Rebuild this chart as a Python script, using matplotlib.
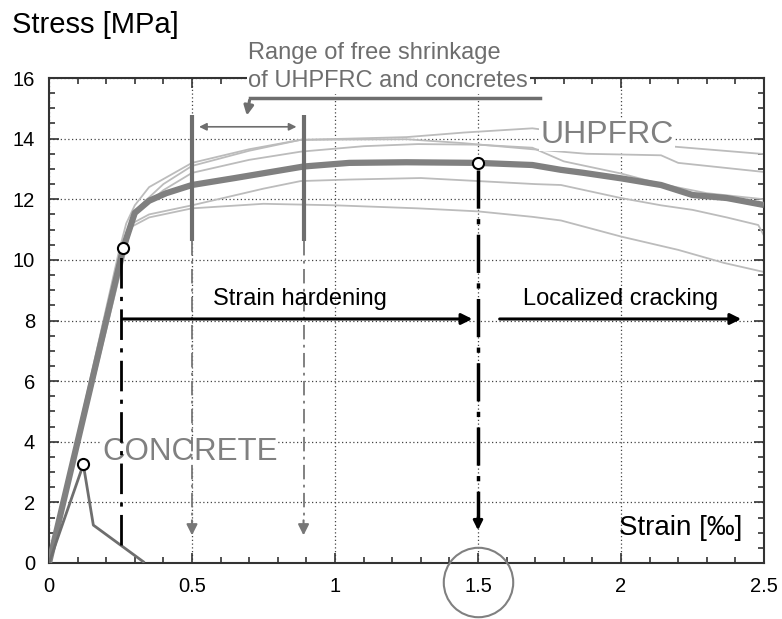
import matplotlib
matplotlib.use("Agg")
import matplotlib.pyplot as plt
from matplotlib.ticker import MultipleLocator

plt.rcParams["font.family"] = ["Liberation Sans", "DejaVu Sans"]

# mean UHPFRC curve (thick)
strain_mean = [0, 0.26, 0.30, 0.35, 0.41, 0.50, 0.65, 0.89, 1.05, 1.25, 1.50, 1.69, 1.79, 1.87, 2.00, 2.14, 2.25, 2.37, 2.50]
stress_mean = [0, 10.4, 11.55, 11.95, 12.2, 12.47, 12.7, 13.08, 13.2, 13.22, 13.2, 13.13, 12.97, 12.87, 12.69, 12.47, 12.14, 12.04, 11.81]

# individual UHPFRC specimens (light)
strain_a = [0, 0.245, 0.27, 0.30, 0.35, 0.50, 0.70, 0.88, 1.05, 1.25, 1.45, 1.69, 2.18, 2.50]
stress_a = [0, 10.3, 11.2, 11.8, 12.4, 13.2, 13.65, 13.96, 14.0, 14.05, 14.2, 14.34, 13.74, 13.49]
strain_b = [0, 0.25, 0.28, 0.32, 0.40, 0.50, 0.70, 0.88, 1.25, 1.45, 1.69, 1.88, 2.14, 2.20, 2.35, 2.50]
stress_b = [0, 10.2, 11.0, 11.8, 12.5, 13.1, 13.6, 13.96, 13.98, 13.85, 13.65, 13.5, 13.45, 13.2, 13.05, 12.9]
strain_c = [0, 0.24, 0.27, 0.30, 0.40, 0.50, 0.70, 0.88, 1.10, 1.29, 1.50, 1.69, 1.80, 2.00, 2.14, 2.30, 2.50]
stress_c = [0, 10.0, 10.9, 11.5, 12.3, 12.87, 13.3, 13.57, 13.75, 13.82, 13.8, 13.7, 13.25, 12.85, 12.5, 12.2, 12.0]
strain_d = [0, 0.26, 0.29, 0.35, 0.50, 0.75, 0.88, 1.05, 1.30, 1.50, 1.70, 1.79, 2.00, 2.14, 2.25, 2.37, 2.48, 2.50]
stress_d = [0, 10.0, 11.2, 11.5, 11.8, 12.35, 12.6, 12.65, 12.7, 12.6, 12.5, 12.47, 12.04, 11.8, 11.65, 11.4, 11.15, 10.8]
strain_e = [0, 0.25, 0.27, 0.29, 0.35, 0.50, 0.75, 1.00, 1.29, 1.50, 1.69, 1.79, 2.00, 2.20, 2.36, 2.50]
stress_e = [0, 9.8, 10.56, 11.1, 11.4, 11.7, 11.85, 11.8, 11.7, 11.6, 11.42, 11.3, 10.77, 10.33, 9.9, 9.6]
specimens = [(strain_a, stress_a), (strain_b, stress_b), (strain_c, stress_c),
             (strain_d, stress_d), (strain_e, stress_e)]

# plain concrete
strain_conc = [0, 0.12, 0.155, 0.33]
stress_conc = [0, 3.25, 1.25, 0.04]

# marked points
elastic_limit = (0.26, 10.4)
peak_uhpfrc = (1.5, 13.2)
peak_conc = (0.12, 3.25)
shrink_lo, shrink_hi = 0.5, 0.89

x_ticks = [0, 0.5, 1, 1.5, 2, 2.5]
x_ticklabels = ["0", "0.5", "1", "1.5", "2", "2.5"]
y_ticks = list(range(0, 17, 2))

GRAY = "#6e6e6e"
LIGHT = "#bcbcbc"
DARK = "#333333"

fig = plt.figure(figsize=(7.82, 6.19), dpi=100)
ax = fig.add_axes([49 / 782, 56 / 619, 715 / 782, 485 / 619])

for sx, sy in specimens:
    ax.plot(sx, sy, color=LIGHT, lw=1.3, zorder=2)
ax.plot(strain_mean, stress_mean, color="#808080", lw=4.5, zorder=3, solid_capstyle="butt")
ax.plot(strain_conc, stress_conc, color=GRAY, lw=2, zorder=3)

# dash-dot guides
dd = (0, (11, 3, 1.5, 3))
ax.plot([0.25, 0.25], [0.6, 10.2], color="black", lw=2, linestyle=dd, zorder=5)
ax.plot([1.5, 1.5], [12.95, 1.5], color="black", lw=2.5, linestyle=dd, zorder=5)
ax.annotate("", xy=(1.5, 0.99), xytext=(1.5, 1.6),
            arrowprops=dict(arrowstyle="-|>", color="black", lw=2, mutation_scale=14), zorder=5)

for xs in (shrink_lo, shrink_hi):
    ax.plot([xs, xs], [10.62, 14.78], color=GRAY, lw=3, zorder=4, solid_capstyle="butt")
    ax.plot([xs, xs], [10.62, 1.4], color="#777777", lw=1.3, linestyle=(0, (8, 3, 1.5, 3)), zorder=5)
    ax.annotate("", xy=(xs, 0.82), xytext=(xs, 1.5),
                arrowprops=dict(arrowstyle="-|>", color="#777777", lw=1.5, mutation_scale=16), zorder=5)

ax.annotate("", xy=(0.515, 14.39), xytext=(0.875, 14.39),
            arrowprops=dict(arrowstyle="<|-|>", color=GRAY, lw=1.2, mutation_scale=11), zorder=5)

# bracket pointing to shrinkage range
ax.plot([0.703, 1.717], [15.33, 15.33], color=GRAY, lw=2.5, zorder=5, clip_on=False)
ax.annotate("", xy=(0.69, 14.67), xytext=(0.703, 15.36),
            arrowprops=dict(arrowstyle="-|>", color=GRAY, lw=2.2, mutation_scale=14), zorder=5)

# regime arrows
ax.annotate("", xy=(1.49, 8.05), xytext=(0.25, 8.05),
            arrowprops=dict(arrowstyle="-|>", color="black", lw=2.2, mutation_scale=16), zorder=5)
ax.annotate("", xy=(2.43, 8.05), xytext=(1.566, 8.05),
            arrowprops=dict(arrowstyle="-|>", color="black", lw=2.2, mutation_scale=16), zorder=5)

# points
for px, py in (elastic_limit, peak_uhpfrc, peak_conc):
    ax.plot(px, py, "o", ms=8, mfc="white", mec="black", mew=1.5, zorder=7)

# circle round the 1.5 tick label
ax.plot(1.5, -0.63, "o", ms=50, mfc="none", mec="#808080", mew=1.5, clip_on=False, zorder=7)

# texts
ax.text(0.697, 16.62, "Range of free shrinkage", color=GRAY, fontsize=17, ha="left", va="baseline")
ax.text(0.697, 15.69, "of UHPFRC and concretes", color=GRAY, fontsize=17, ha="left", va="baseline",
        bbox=dict(facecolor="white", edgecolor="none", pad=1), zorder=8, clip_on=False)
ax.text(1.717, 13.86, "UHPFRC", color="#808080", fontsize=23, ha="left", va="baseline",
        bbox=dict(facecolor="white", edgecolor="none", pad=1), zorder=3.5)
ax.text(0.185, 3.4, "CONCRETE", color="#808080", fontsize=22.5, ha="left", va="baseline",
        bbox=dict(facecolor="white", edgecolor="none", pad=0), zorder=3.5)
ax.text(0.573, 8.51, "Strain hardening", color="black", fontsize=17, ha="left", va="baseline", zorder=6)
ax.text(1.657, 8.51, "Localized cracking", color="black", fontsize=17, ha="left", va="baseline", zorder=6)
ax.text(2.424, 0.92, "Strain [‰]", color="black", fontsize=20, ha="right", va="baseline", zorder=6)
fig.text(12 / 782, 1 - 33 / 619, "Stress [MPa]", color="black", fontsize=21, ha="left", va="baseline")

ax.set_xlim(0, 2.5)
ax.set_ylim(0, 16)
ax.set_xticks(x_ticks)
ax.set_xticklabels(x_ticklabels)
ax.set_yticks(y_ticks)
ax.xaxis.set_minor_locator(MultipleLocator(0.1))
ax.yaxis.set_minor_locator(MultipleLocator(0.5))
ax.tick_params(which="both", direction="in", top=True, right=True, color=DARK, width=1.2,
               labelsize=14.5, pad=10)
ax.tick_params(which="major", length=7)
ax.tick_params(which="minor", length=4)
for s in ax.spines.values():
    s.set_color(DARK)
    s.set_linewidth(1.5)
ax.grid(True, which="major", color="#444444", lw=0.9, linestyle=(0, (1, 2)), zorder=1)
ax.set_axisbelow(True)

fig.savefig("out.png", dpi=100)
